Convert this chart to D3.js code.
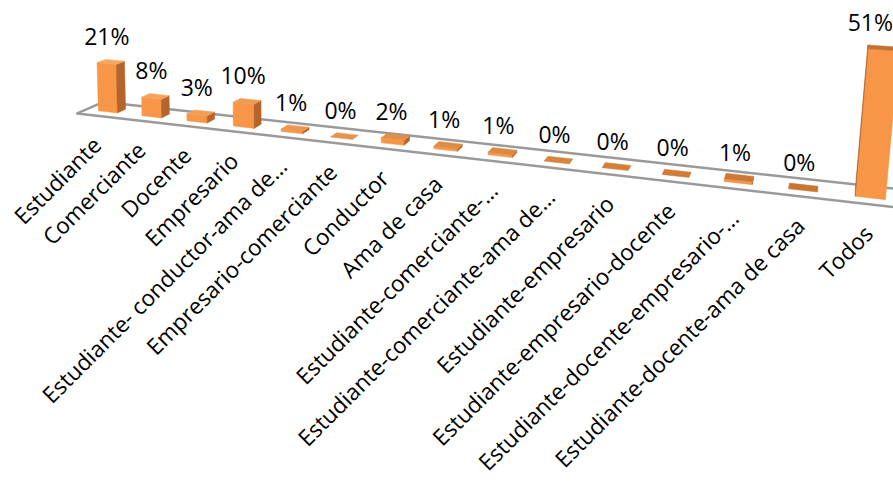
<!DOCTYPE html>
<html>
<head>
<meta charset="utf-8">
<script src="https://cdn.jsdelivr.net/npm/d3@7"></script>
<style>
  html, body { margin: 0; padding: 0; background: #fff; }
  svg { display: block; }
  text { font-family: "Open Sans", "DejaVu Sans", sans-serif; }
</style>
</head>
<body>
<svg id="chart" width="893" height="483"></svg>
<script>
// Occupation of respondents (share of total, %)
const categories = [
  "Estudiante", "Comerciante", "Docente", "Empresario",
  "Estudiante- conductor-ama de…", "Empresario-comerciante", "Conductor",
  "Ama de casa", "Estudiante-comerciante-…", "Estudiante-comerciante-ama de…",
  "Estudiante-empresario", "Estudiante-empresario-docente",
  "Estudiante-docente-empresario-…", "Estudiante-docente-ama de casa", "Todos"
];
const values = [21, 8, 3, 10, 1, 0, 2, 1, 1, 0, 0, 0, 1, 0, 51];

const W = 893, H = 483;
const svg = d3.select("#chart");

// World space: X runs along the categories (one unit per category),
// Y is the bar height in percent, Z is floor depth (-0.5 front .. 0.5 back).
const xBand = d3.scaleBand()
  .domain(categories)
  .range([-0.5, categories.length - 0.5])
  .paddingInner(0.56)
  .paddingOuter(0.28);
const hScale = d3.scaleLinear().domain([0, 100]).range([0, 100]);
const floorZ = [-0.5, 0.5];
const barZ = [-0.16, 0.16];

// Perspective view: a homogeneous projection defined by the image of the
// origin and the vanishing point of each world axis.
const view = {
  origin: [112, 110],
  row:   { vp: [-2849, -222], w: -0.01456 },
  up:    { vp: [280, 6800],   w: -3.40e-4 },
  depth: { vp: [850, -222],   w: 0.035 }
};
function project(x, y, z) {
  const a = view.row, b = view.up, c = view.depth;
  const hx = view.origin[0] + x * a.w * a.vp[0] + y * b.w * b.vp[0] + z * c.w * c.vp[0];
  const hy = view.origin[1] + x * a.w * a.vp[1] + y * b.w * b.vp[1] + z * c.w * c.vp[1];
  const hw = 1 + x * a.w + y * b.w + z * c.w;
  return [hx / hw, hy / hw];
}
const line = d3.line();
function signedArea(pts) {
  let s = 0;
  for (let i = 0; i < pts.length; i++) {
    const p = pts[i], q = pts[(i + 1) % pts.length];
    s += p[0] * q[1] - q[0] * p[1];
  }
  return s / 2;
}

// Floor
const [xr0, xr1] = xBand.range();
const floorPts = [
  [xr0, 0, floorZ[0]], [xr1, 0, floorZ[0]], [xr1, 0, floorZ[1]], [xr0, 0, floorZ[1]]
].map(p => project(...p));
svg.append("path")
  .attr("d", line(floorPts) + "Z")
  .attr("fill", "#ffffff")
  .attr("stroke", "#9a9a9a")
  .attr("stroke-width", 2.5)
  .attr("stroke-linejoin", "round");

// Bars, drawn far (left) to near (right); only faces turned to the viewer are drawn
const frontColor = "#F79646";
const sideColor = "#B5652B";
const topColor = d3.scaleLinear()
  .domain([0, categories.length - 1])
  .range(["#FAA65E", "#C3712F"])
  .interpolate(d3.interpolateRgb);

const bars = svg.append("g");
categories.forEach((cat, i) => {
  const x0 = xBand(cat), x1 = x0 + xBand.bandwidth();
  const h = hScale(values[i]);
  const [z0, z1] = barZ;
  const faces = [
    { pts: [[x0,0,z0],[x1,0,z0],[x1,h,z0],[x0,h,z0]], fill: frontColor },
    { pts: [[x1,0,z0],[x1,0,z1],[x1,h,z1],[x1,h,z0]], fill: sideColor },
    { pts: [[x0,0,z1],[x0,0,z0],[x0,h,z0],[x0,h,z1]], fill: sideColor },
    { pts: [[x0,h,z0],[x1,h,z0],[x1,h,z1],[x0,h,z1]], fill: topColor(i) }
  ];
  faces.forEach(f => {
    const sp = f.pts.map(p => project(...p));
    if (signedArea(sp) < -0.01) {
      bars.append("path")
        .attr("d", line(sp) + "Z")
        .attr("fill", f.fill)
        .attr("stroke", f.fill)
        .attr("stroke-width", 0.5)
        .attr("stroke-linejoin", "round");
    }
  });
});

// Value labels above the bars
const valueLabels = svg.append("g");
categories.forEach((cat, i) => {
  const cx = xBand(cat) + xBand.bandwidth() / 2;
  const p = project(cx, hScale(values[i]), 0);
  const t = valueLabels.append("text")
    .attr("text-anchor", "middle")
    .attr("font-size", 23)
    .attr("fill", "#000")
    .text(values[i] + "%");
  const half = t.node().getComputedTextLength() / 2;
  const x = Math.min(p[0] - 4, W - half);
  t.attr("x", x).attr("y", p[1] - 17);
});

// Category labels, rotated along the floor edge
const axisLabels = svg.append("g");
categories.forEach(cat => {
  const cx = xBand(cat) + xBand.bandwidth() / 2;
  const p = project(cx, 0, floorZ[0]);
  const ax = p[0] + 4, ay = p[1] + 31;
  axisLabels.append("text")
    .attr("text-anchor", "end")
    .attr("font-size", 22.5)
    .attr("fill", "#000")
    .attr("transform", `translate(${ax},${ay}) rotate(-45)`)
    .text(cat);
});
</script>
</body>
</html>
